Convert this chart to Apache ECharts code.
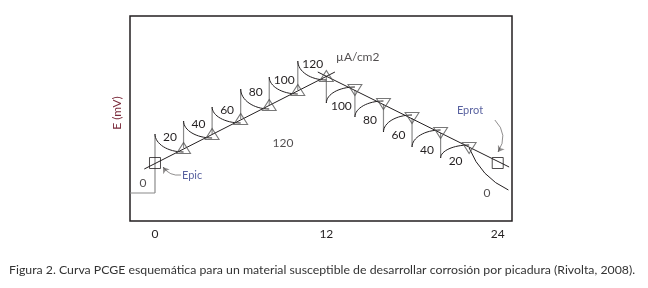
<!DOCTYPE html>
<html>
<head>
<meta charset="utf-8">
<script src="https://cdn.jsdelivr.net/npm/echarts@6/dist/echarts.min.js"></script>
<style>
  html, body { margin: 0; padding: 0; background: #fff; }
  #chart { width: 648px; height: 288px; }
</style>
</head>
<body>
<div id="chart"></div>
<script>
/* datos (E en unidades arbitrarias) */
const steps = [0, 2, 4, 6, 8, 10, 12, 14, 16, 18, 20, 22, 24];
const markerE = [58, 73, 87, 102, 116, 131, 145, 131, 117, 103, 88, 73, 58];
const spikeE = [87, 100, 114, 132, 144, 160, 118, 104, 89, 74, 63];   /* extremo de cada salto vertical */
const currents = [20, 40, 60, 80, 100, 120, 100, 80, 60, 40, 20];   /* µA/cm2 */
const baseE = 28;
const tailEnd = [24.75, 31];
const upLine = [[-0.75, 52], [12.6, 149]];
const downLine = [[11.4, 149], [24.8, 54]];
const xTicks = [0, 12, 24];
const annotations = [
    { name: '0', value: [-0.84, 38] },
    { name: '120', value: [8.96, 78] },
    { name: 'µA/cm2', value: [14.2, 164] },
    { name: '0', value: [23.25, 28] }
];
const notes = [
    { name: 'Epic', value: [2.6, 46] },
    { name: 'Eprot', value: [22.06, 111] }
];
const arrows = [
    { coords: [[1.82, 46], [0.56, 54]], lineStyle: { curveness: 0.3 } },
    { coords: [[23.8, 101], [24.02, 69]], lineStyle: { curveness: 0.4 } }
];

const FONT = 'Lato, "Open Sans", sans-serif';
const INK = '#231f20';
const GREY = '#8a8a8a';

/* armar los segmentos */
const verticals = [];
const curves = [];
for (let i = 0; i < spikeE.length; i++) {
    const from = i === 0 ? baseE : markerE[i];
    verticals.push([steps[i], from, steps[i], spikeE[i]]);
    curves.push([steps[i], spikeE[i], steps[i + 1], markerE[i + 1], currents[i]]);
}
const tail = [[steps[11], markerE[11], tailEnd[0], tailEnd[1]]];

const upTri = [], downTri = [], boxes = [];
steps.forEach((s, i) => {
    if (i === 0 || i === steps.length - 1) boxes.push([s, markerE[i]]);
    else if (s <= 12) upTri.push([s, markerE[i]]);
    else downTri.push([s, markerE[i]]);
});

const chart = echarts.init(document.getElementById('chart'), null, { renderer: 'canvas' });
chart.setOption({
    animation: false,
    textStyle: { fontFamily: FONT },
    grid: { left: 130, top: 16, right: 136, bottom: 67, show: true, borderColor: INK, borderWidth: 1.5 },
    xAxis: {
        type: 'value', min: -1.75, max: 25, interval: 0.25,
        axisLine: { show: false }, axisTick: { show: false }, splitLine: { show: false },
        axisLabel: {
            margin: 7, color: INK, fontSize: 12, fontFamily: FONT, showMinLabel: true, showMaxLabel: false,
            formatter: v => (xTicks.indexOf(Math.round(v * 100) / 100) >= 0 ? String(Math.round(v)) : '')
        }
    },
    yAxis: {
        type: 'value', min: 0, max: 205,
        axisLine: { show: false }, axisTick: { show: false }, splitLine: { show: false }, axisLabel: { show: false }
    },
    graphic: [
        {
            type: 'text', x: 117, y: 113, rotation: Math.PI / 2,
            style: { text: 'E (mV)', font: '12px ' + FONT, fill: '#7a2a3a', align: 'center', verticalAlign: 'middle' }
        },
        {
            type: 'text', left: 9, top: 264,
            style: {
                text: 'Figura 2. Curva PCGE esquemática para un material susceptible de desarrollar corrosión por picadura (Rivolta, 2008).',
                font: '12.3px ' + FONT, fill: '#333'
            }
        }
    ],
    series: [
        {
            type: 'line', data: upLine, symbol: 'none', z: 2,
            lineStyle: { color: INK, width: 1 }
        },
        {
            type: 'line', data: downLine, symbol: 'none', z: 2,
            lineStyle: { color: INK, width: 1 }
        },
        {
            type: 'line', data: [[-1.75, baseE], [0, baseE]], symbol: 'none', z: 2,
            lineStyle: { color: GREY, width: 1.2 }
        },
        {
            type: 'custom', data: verticals, z: 2,
            renderItem: (params, api) => {
                const a = api.coord([api.value(0), api.value(1)]);
                const b = api.coord([api.value(2), api.value(3)]);
                return {
                    type: 'line', shape: { x1: a[0], y1: a[1], x2: b[0], y2: b[1] },
                    style: { stroke: GREY, lineWidth: 1.2 }
                };
            }
        },
        {
            /* transitorios de corriente: arco de cuarto de elipse hasta el borde del marcador */
            type: 'custom', data: curves, z: 3,
            renderItem: (params, api) => {
                const a = api.coord([api.value(0), api.value(1)]);
                const b = api.coord([api.value(2), api.value(3)]);
                b[1] += b[1] > a[1] ? 4 : -3;
                const dx = b[0] - a[0], dy = b[1] - a[1];
                return {
                    type: 'group', children: [{
                        type: 'bezierCurve',
                        shape: {
                            x1: a[0], y1: a[1], x2: b[0], y2: b[1],
                            cpx1: a[0], cpy1: a[1] + dy * 0.55,
                            cpx2: a[0] + dx * 0.45, cpy2: b[1]
                        },
                        style: { stroke: INK, lineWidth: 1, fill: null }
                    }, {
                        type: 'text', x: a[0] + 15, y: a[1] + 3,
                        style: { text: String(api.value(4)), font: '12px ' + FONT, fill: INK, align: 'center', verticalAlign: 'middle' }
                    }]
                };
            }
        },
        {
            type: 'custom', data: tail, z: 3,
            renderItem: (params, api) => {
                const a = api.coord([api.value(0), api.value(1)]);
                const b = api.coord([api.value(2), api.value(3)]);
                const dx = b[0] - a[0], dy = b[1] - a[1];
                return {
                    type: 'bezierCurve',
                    shape: { x1: a[0], y1: a[1], x2: b[0], y2: b[1], cpx1: a[0] + dx * 0.3, cpy1: a[1] + dy * 0.7 },
                    style: { stroke: INK, lineWidth: 1, fill: null }
                };
            }
        },
        {
            type: 'scatter', data: upTri, symbol: 'triangle', symbolSize: [14, 11], z: 4,
            itemStyle: { color: 'transparent', borderColor: '#555', borderWidth: 1 }
        },
        {
            type: 'scatter', data: downTri, symbol: 'triangle', symbolRotate: 180, symbolSize: [14, 11], z: 4,
            itemStyle: { color: 'transparent', borderColor: '#555', borderWidth: 1 }
        },
        {
            type: 'scatter', data: boxes, symbol: 'rect', symbolSize: 11, z: 4,
            itemStyle: { color: 'transparent', borderColor: INK, borderWidth: 1 }
        },
        {
            type: 'lines', coordinateSystem: 'cartesian2d', data: arrows, z: 4,
            symbol: ['none', 'arrow'], symbolSize: 6,
            lineStyle: { color: INK, width: 1 }
        },
        {
            type: 'scatter', data: annotations, symbolSize: 0, z: 5,
            label: { show: true, position: 'inside', formatter: p => p.name, color: INK, fontSize: 12, fontFamily: FONT }
        },
        {
            type: 'scatter', data: notes, symbolSize: 0, z: 5,
            label: { show: true, position: 'inside', formatter: p => p.name, color: '#2e3a87', fontSize: 11, fontFamily: FONT }
        }
    ]
});
</script>
</body>
</html>
